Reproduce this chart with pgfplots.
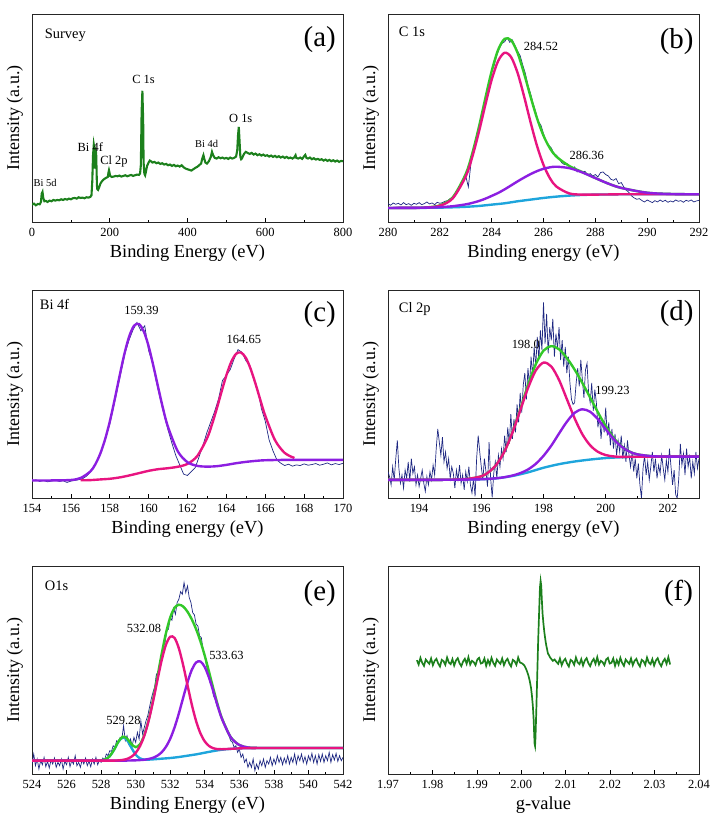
\documentclass[border=0pt]{standalone}
\usepackage{fontspec}
\setmainfont{Liberation Serif}
\usepackage{pgfplots}
\pgfplotsset{compat=1.18}
\definecolor{navy}{RGB}{30,40,130}
\definecolor{fgreen}{RGB}{50,200,40}
\definecolor{fpink}{RGB}{232,20,128}
\definecolor{fpurple}{RGB}{140,30,225}
\definecolor{fcyan}{RGB}{30,165,220}
\definecolor{sgreen}{RGB}{28,128,28}
\pgfplotsset{
  panel/.style={
    scale only axis, width=311bp, height=208bp, anchor=south west,
    ymin=0, ytick=\empty, xtick pos=left, tick align=inside,
    minor x tick num=1, major tick length=4bp, minor tick length=2.2bp,
    axis line style={line width=0.8pt, black!85},
    tick style={line width=0.6pt, black},
    ticklabel style={font=\fontsize{12.5}{12.5}\selectfont},
    xticklabel style={yshift=-3bp},
    /pgf/number format/assume math mode=true,
    xlabel style={font=\fontsize{18.5}{18.5}\selectfont, at={(axis description cs:0.5,-0.15)}, anchor=center},
    ylabel={Intensity (a.u.)},
    ylabel style={font=\fontsize{18}{18}\selectfont, at={(axis description cs:-0.055,0.5)}, anchor=center},
  },
  raw/.style={navy, line width=0.7pt},
  fit/.style={line width=2.4pt, smooth},
}
\newcommand{\corner}[1]{\fontsize{14.5}{15}\selectfont #1}
\newcommand{\pk}[1]{\fontsize{12.5}{13}\selectfont #1}
\newcommand{\plab}[1]{\fontsize{29}{30}\selectfont #1}
\begin{document}
\begin{tikzpicture}
\useasboundingbox (0,0) rectangle (714bp,821bp);
% ---------------- (a) ----------------
\begin{axis}[panel, at={(32bp,599bp)}, xmin=0, xmax=800, ymax=623,
  xtick={0,200,400,600,800}, xlabel={Binding Energy (eV)}]
\addplot[sgreen, line width=2.1pt] coordinates {
(0,52)(5,55)(10,50)(15,54)(20,53)(23,60)(25,85)(27,90)(29,72)(32,62)(36,63)(40,60)(45,64)(50,62)(55,66)(60,64)(65,66)(70,65)(75,68)(80,66)(85,69)(90,67)(95,70)(100,68)(105,71)(110,72)(115,70)(120,74)(125,72)(130,73)(135,71)(140,74)(145,73)(150,75)(153,80)(155,120)(157,200)(159,232)(160,225)(161,160)(162,175)(163,200)(164,212)(165,208)(166,160)(167,110)(168,98)(170,96)(173,105)(176,115)(180,122)(185,128)(190,132)(195,135)(197,150)(198,155)(199,150)(201,138)(205,135)(210,136)(215,138)(220,137)(225,139)(230,136)(235,138)(240,140)(245,137)(250,139)(255,141)(260,138)(265,140)(270,142)(275,141)(278,145)(280,170)(282,330)(284,393)(286,300)(287,180)(289,145)(291,140)(293,150)(296,168)(300,178)(303,184)(306,182)(310,178)(315,180)(320,176)(325,178)(330,174)(335,176)(340,172)(345,174)(350,170)(355,172)(360,168)(365,171)(370,167)(375,169)(380,166)(385,170)(390,164)(395,160)(400,158)(405,156)(410,154)(415,158)(420,162)(425,165)(430,170)(435,175)(438,190)(441,200)(443,190)(446,178)(450,175)(455,182)(460,195)(463,210)(466,200)(470,192)(475,190)(480,194)(485,191)(490,193)(495,190)(500,192)(505,189)(510,193)(515,190)(520,192)(525,196)(528,215)(530,260)(532,285)(534,240)(536,195)(538,188)(540,190)(543,198)(546,205)(550,210)(553,208)(556,206)(560,204)(565,207)(570,202)(575,205)(580,200)(585,203)(590,199)(595,202)(600,198)(605,200)(610,196)(615,199)(620,195)(625,198)(630,194)(635,197)(640,193)(645,196)(650,192)(655,195)(660,191)(665,193)(670,190)(675,194)(678,200)(680,192)(685,190)(690,193)(695,189)(700,197)(703,201)(706,192)(710,190)(715,193)(720,188)(725,191)(730,187)(735,189)(740,186)(745,188)(750,184)(755,187)(760,183)(765,186)(770,182)(775,185)(780,181)(785,184)(790,180)(795,183)(800,182)};
\node[anchor=west] at (rel axis cs:0.030,0.899) {\corner{Survey}};
\node at (rel axis cs:0.925,0.875) {\plab{(a)}};
\node at (axis cs:287,428) {\pk{C 1s}};
\node at (axis cs:150,223) {\pk{Bi 4f}};
\node at (axis cs:211,180) {\pk{Cl 2p}};
\node at (axis cs:34,117) {\fontsize{10.5}{11}\selectfont Bi 5d};
\node at (axis cs:449,233) {\fontsize{10.5}{11}\selectfont Bi 4d};
\node at (axis cs:537,310) {\pk{O 1s}};
\end{axis}
% ---------------- (b) ----------------
\begin{axis}[panel, at={(388bp,599bp)}, xmin=280, xmax=292, ymax=623,
  xtick={280,282,...,292}, xlabel={Binding energy (eV)}]
\addplot[raw] coordinates {
(280.0,55)(280.1,50)(280.2,57)(280.3,53)(280.4,56)(280.5,51)(280.6,58)(280.7,52)(280.8,55)(280.9,50)(281.0,56)(281.1,53)(281.2,58)(281.3,52)(281.4,55)(281.5,60)(281.6,54)(281.7,57)(281.8,52)(281.9,59)(282.0,56)(282.1,58)(282.2,62)(282.3,64)(282.4,70)(282.5,75)(282.6,84)(282.7,92)(282.8,110)(282.9,118)(283.0,138)(283.1,105)(283.2,175)(283.3,220)(283.4,250)(283.5,285)(283.6,318)(283.7,345)(283.8,380)(283.9,420)(284.0,450)(284.1,470)(284.2,500)(284.3,520)(284.4,535)(284.5,540)(284.6,552)(284.7,538)(284.8,545)(284.9,528)(285.0,512)(285.1,498)(285.2,470)(285.3,445)(285.4,410)(285.5,385)(285.6,355)(285.7,330)(285.8,300)(285.9,290)(286.0,265)(286.1,240)(286.2,230)(286.3,222)(286.4,205)(286.5,200)(286.6,190)(286.7,178)(286.8,172)(286.9,175)(287.0,168)(287.1,160)(287.2,165)(287.3,150)(287.4,155)(287.5,148)(287.6,152)(287.7,140)(287.8,145)(287.9,138)(288.0,142)(288.1,135)(288.2,148)(288.3,150)(288.4,142)(288.5,138)(288.6,128)(288.7,125)(288.8,130)(288.9,115)(289.0,118)(289.1,105)(289.2,95)(289.3,88)(289.4,78)(289.5,72)(289.6,68)(289.7,70)(289.8,64)(289.9,60)(290.0,66)(290.1,62)(290.2,58)(290.3,64)(290.4,60)(290.5,66)(290.6,61)(290.7,65)(290.8,59)(290.9,63)(291.0,60)(291.1,66)(291.2,62)(291.3,64)(291.4,59)(291.5,65)(291.6,62)(291.7,66)(291.8,60)(291.9,63)(292.0,65)};
\addplot[fit, fgreen] coordinates {
(280,42)(281,42.4)(281.5,43.8)(282,49.9)(282.5,74.2)(283,143.9)(283.25,205.0)(283.5,282.1)(283.75,368.9)(284,452.1)(284.25,515.8)(284.5,548.7)(284.75,544.5)(285,506.3)(285.25,445.0)(285.5,375.4)(285.75,310.8)(286,258.4)(286.25,220.6)(286.5,195.6)(287,167.6)(287.5,149.4)(288,131.6)(288.5,115.0)(289,102.1)(290,87.7)(291,83.8)(292,83)};
\addplot[fit, fcyan] coordinates {
(280,42)(281,42.2)(281.5,42.5)(282,43)(282.5,44)(283,45.5)(283.5,48)(284,52)(284.5,56)(285,62)(285.5,67)(286,72)(286.5,76)(287,79)(287.5,81)(288,82)(288.5,82.5)(289,83)(290,83)(291,83)(292,83)};
\addplot[fit, fpink] coordinates {
(280,42)(281,42.3)(281.5,43.3)(282,48.6)(282.5,70.9)(283,136.6)(283.25,194.5)(283.5,267.5)(283.75,349.1)(284,426.0)(284.25,482.3)(284.5,507.0)(284.75,493.9)(285,446.6)(285.25,376.5)(285.5,299.0)(285.75,227.9)(286,171.0)(286.25,130.8)(286.5,106.0)(287,85.4)(287.5,82.0)(288,82.1)(288.5,82.5)(289,83)(290,83)(292,83)};
\addplot[fit, fpurple] coordinates {
(280,42)(281,42.4)(281.5,43.0)(282,44.3)(282.5,47.3)(283,52.8)(283.25,57.2)(283.5,62.6)(283.75,69.6)(284,78.1)(284.25,87.0)(284.5,97.7)(284.75,109.6)(285,121.7)(285.25,133.0)(285.5,143.4)(285.75,152.4)(286,159.4)(286.25,163.8)(286.5,165.6)(287,161.2)(287.5,148.4)(288,131.5)(288.5,115.0)(289,102.1)(290,87.7)(291,83.8)(292,83)};
\node[anchor=west] at (rel axis cs:0.024,0.915) {\corner{C 1s}};
\node at (rel axis cs:0.928,0.867) {\plab{(b)}};
\node at (axis cs:285.9,525) {\pk{284.52}};
\node at (axis cs:287.67,200) {\pk{286.36}};
\end{axis}
% ---------------- (c) ----------------
\begin{axis}[panel, at={(32bp,323bp)}, xmin=154, xmax=170, ymax=628,
  xtick={154,156,...,170}, xlabel={Binding energy (eV)}]
\addplot[raw] coordinates {
(154.0,52)(154.2,55)(154.4,50)(154.6,53)(154.8,49)(155.0,51)(155.2,54)(155.4,50)(155.6,52)(155.8,47)(156.0,51)(156.2,53)(156.4,55)(156.6,58)(156.8,66)(157.0,78)(157.2,95)(157.4,118)(157.6,148)(157.8,185)(158.0,222)(158.2,275)(158.4,330)(158.6,385)(158.8,440)(159.0,478)(159.2,508)(159.4,530)(159.6,505)(159.8,520)(160.0,445)(160.2,408)(160.4,350)(160.6,298)(160.8,250)(161.0,205)(161.2,165)(161.4,128)(161.6,100)(161.8,72)(162.0,68)(162.2,80)(162.4,92)(162.6,125)(162.8,160)(163.0,198)(163.2,230)(163.4,262)(163.6,300)(163.8,355)(164.0,370)(164.2,388)(164.4,420)(164.6,448)(164.8,440)(165.0,415)(165.2,400)(165.4,360)(165.6,330)(165.8,270)(166.0,232)(166.2,175)(166.4,142)(166.6,115)(166.8,105)(167.0,98)(167.2,102)(167.4,96)(167.6,100)(167.8,98)(168.0,103)(168.2,99)(168.4,101)(168.6,104)(168.8,99)(169.0,102)(169.2,106)(169.4,100)(169.6,104)(169.8,101)(170.0,105)};
\addplot[fit, fpink] coordinates {
(156.5,53.5)(157,54)(157.5,56)(158,58)(158.5,62)(159,68)(159.5,75)(160,82)(160.5,87)(161,90)(161.5,94.3)(162,103)(162.5,126.6)(163,179.6)(163.25,220.3)(163.5,268.5)(163.75,320.8)(164,370.4)(164.25,410.8)(164.5,435.3)(164.75,439.3)(165,423.3)(165.25,389.5)(165.5,344.7)(165.75,295.4)(166,248.3)(166.5,174.8)(167,136.1)(167.5,120.8)};
\addplot[fit, fpurple] coordinates {
(154,53)(155,53)(156,54.4)(156.5,60.4)(157,80.0)(157.25,100.9)(157.5,132.0)(157.75,175.0)(158,230.4)(158.25,296.5)(158.5,366.9)(158.75,434.2)(159,487.8)(159.25,520.1)(159.5,525.3)(159.75,503.1)(160,458.1)(160.25,397.4)(160.5,331.7)(160.75,268.1)(161,213.9)(161.5,140.9)(162,108.0)(162.5,97.1)(163,94.7)(163.5,96)(164,100)(164.5,105)(165,109)(165.5,112)(166,114)(167,115)(168,115)(170,115)};
\node[anchor=west] at (rel axis cs:0.014,0.93) {\corner{Bi 4f}};
\node at (rel axis cs:0.925,0.884) {\plab{(c)}};
\node at (axis cs:159.63,565) {\pk{159.39}};
\node at (axis cs:164.9,480) {\pk{164.65}};
\end{axis}
% ---------------- (d) ----------------
\begin{axis}[panel, at={(388bp,323bp)}, xmin=193, xmax=203, ymax=633,
  xtick={194,196,...,202}, xlabel={Binding energy (eV)}]
\addplot[raw] coordinates {
(193.00,80)(193.05,65)(193.10,40)(193.15,95)(193.20,55)(193.25,120)(193.30,175)(193.35,90)(193.40,45)(193.45,70)(193.50,30)(193.55,85)(193.60,60)(193.65,110)(193.70,50)(193.75,120)(193.80,75)(193.85,95)(193.90,40)(193.95,70)(194.00,35)(194.05,60)(194.10,85)(194.15,45)(194.20,20)(194.25,65)(194.30,40)(194.35,80)(194.40,55)(194.45,100)(194.50,70)(194.55,150)(194.60,210)(194.65,170)(194.70,130)(194.75,185)(194.80,110)(194.85,140)(194.90,90)(194.95,120)(195.00,60)(195.05,95)(195.10,75)(195.15,30)(195.20,85)(195.25,55)(195.30,100)(195.35,45)(195.40,70)(195.45,25)(195.50,80)(195.55,50)(195.60,95)(195.65,40)(195.70,15)(195.75,60)(195.80,5)(195.85,120)(195.90,190)(195.95,140)(196.00,95)(196.05,55)(196.10,120)(196.15,80)(196.20,35)(196.25,170)(196.30,60)(196.35,2)(196.40,75)(196.45,110)(196.50,60)(196.55,130)(196.60,95)(196.65,150)(196.70,120)(196.75,190)(196.80,140)(196.85,215)(196.90,165)(196.95,255)(197.00,180)(197.05,240)(197.10,200)(197.15,285)(197.20,230)(197.25,320)(197.30,260)(197.35,345)(197.40,380)(197.45,300)(197.50,395)(197.55,340)(197.60,430)(197.65,370)(197.70,460)(197.75,400)(197.80,490)(197.85,420)(197.90,510)(197.95,450)(198.00,595)(198.05,470)(198.10,560)(198.15,440)(198.20,520)(198.25,480)(198.30,545)(198.35,430)(198.40,500)(198.45,455)(198.50,520)(198.55,420)(198.60,480)(198.65,400)(198.70,460)(198.75,380)(198.80,430)(198.85,350)(198.90,300)(198.95,285)(199.00,290)(199.05,350)(199.10,395)(199.15,340)(199.20,420)(199.25,360)(199.30,305)(199.35,390)(199.40,410)(199.45,320)(199.50,290)(199.55,350)(199.60,265)(199.65,330)(199.70,290)(199.75,215)(199.80,250)(199.85,180)(199.90,240)(199.95,200)(200.00,275)(200.05,190)(200.10,230)(200.15,160)(200.20,210)(200.25,150)(200.30,195)(200.35,130)(200.40,175)(200.45,140)(200.50,190)(200.55,120)(200.60,160)(200.65,110)(200.70,175)(200.75,130)(200.80,95)(200.85,140)(200.90,80)(200.95,120)(201.00,60)(201.05,105)(201.10,40)(201.15,0)(201.20,90)(201.25,130)(201.30,70)(201.35,110)(201.40,55)(201.45,95)(201.50,140)(201.55,80)(201.60,120)(201.65,60)(201.70,100)(201.75,75)(201.80,130)(201.85,90)(201.90,55)(201.95,115)(202.00,80)(202.05,150)(202.10,95)(202.15,40)(202.20,85)(202.25,10)(202.30,0)(202.35,60)(202.40,165)(202.45,100)(202.50,135)(202.55,70)(202.60,150)(202.65,95)(202.70,125)(202.75,60)(202.80,110)(202.85,75)(202.90,140)(202.95,90)(203.00,120)};
\addplot[fit, fcyan] coordinates {
(193,55)(194,55)(195,55.5)(195.5,56)(196,57)(196.5,60)(197,67)(197.5,78)(198,92)(198.5,103)(199,111)(199.5,117)(200,121.5)(200.5,124)(201,125.5)(201.5,126)(202,126)(203,126)};
\addplot[fit, fgreen] coordinates {
(193,55)(194,55)(195,55.6)(195.5,57.2)(196,66.1)(196.25,79.5)(196.5,103.4)(196.75,143.2)(197,199.9)(197.25,269.7)(197.5,342.9)(197.75,406.6)(198,448.3)(198.25,462.0)(198.5,452.5)(198.75,426.0)(199,390.8)(199.25,349.8)(199.5,305.7)(199.75,260.7)(200,218.7)(200.25,183.8)(200.5,158.1)(200.75,142.2)(201,133.2)(201.5,127.1)(202,126.1)(203,126)};
\addplot[fit, fpink] coordinates {
(193,55)(194,55)(195,55.6)(195.5,57.2)(196,66.1)(196.25,79.5)(196.5,103.3)(196.75,142.8)(197,198.6)(197.25,266.1)(197.5,334.2)(197.75,387.7)(198,412)(198.25,400.2)(198.5,359.2)(198.75,301.1)(199,242.6)(199.25,193.8)(199.5,160.3)(199.75,140.5)(200,130.6)(200.25,126.6)(200.5,125.2)(200.75,125.4)(201,125.6)(201.5,126)(202,126)(203,126)};
\addplot[fit, fpurple] coordinates {
(193,55)(194,55)(195,55.5)(195.5,56)(196,57)(196.25,58.5)(196.5,60.1)(196.75,63.4)(197,68.3)(197.25,75.6)(197.5,86.7)(197.75,103.9)(198,128.3)(198.25,159.3)(198.5,196.3)(198.75,231.9)(199,259.2)(199.25,270)(199.5,262.4)(199.75,239.7)(200,209.6)(200.25,180.2)(200.5,156.9)(200.75,141.8)(201,133.1)(201.5,127.1)(202,126.1)(203,126)};
\node[anchor=west] at (rel axis cs:0.024,0.908) {\corner{Cl 2p}};
\node at (rel axis cs:0.928,0.885) {\plab{(d)}};
\node at (axis cs:197.43,468) {\pk{198.0}};
\node at (axis cs:200.22,328) {\pk{199.23}};
\end{axis}
% ---------------- (e) ----------------
\begin{axis}[panel, at={(32bp,47bp)}, xmin=524, xmax=542, ymax=625,
  xtick={524,526,...,542}, xlabel={Binding Energy (eV)}]
\addplot[raw] coordinates {
(524.0,30)(524.1,60)(524.2,25)(524.3,45)(524.4,15)(524.5,40)(524.6,28)(524.7,50)(524.8,22)(524.9,38)(525.0,18)(525.1,42)(525.2,30)(525.3,48)(525.4,20)(525.5,35)(525.6,25)(525.7,45)(525.8,15)(525.9,38)(526.0,28)(526.1,50)(526.2,22)(526.3,40)(526.4,30)(526.5,55)(526.6,25)(526.7,35)(526.8,20)(526.9,42)(527.0,30)(527.1,48)(527.2,25)(527.3,38)(527.4,22)(527.5,45)(527.6,30)(527.7,50)(527.8,28)(527.9,40)(528.0,35)(528.1,48)(528.2,42)(528.3,60)(528.4,55)(528.5,70)(528.6,68)(528.7,85)(528.8,80)(528.9,100)(529.0,95)(529.1,110)(529.2,105)(529.3,145)(529.4,100)(529.5,115)(529.6,90)(529.7,105)(529.8,85)(529.9,110)(530.0,95)(530.1,125)(530.2,105)(530.3,160)(530.4,120)(530.5,140)(530.6,160)(530.7,175)(530.8,200)(530.9,225)(531.0,245)(531.1,262)(531.2,300)(531.3,290)(531.4,340)(531.5,345)(531.6,385)(531.7,395)(531.8,430)(531.9,435)(532.0,470)(532.1,462)(532.2,498)(532.3,480)(532.4,515)(532.5,525)(532.6,548)(532.7,540)(532.8,575)(532.9,545)(533.0,565)(533.1,530)(533.2,515)(533.3,485)(533.4,478)(533.5,450)(533.6,445)(533.7,415)(533.8,410)(533.9,375)(534.0,355)(534.1,325)(534.2,305)(534.3,275)(534.4,265)(534.5,235)(534.6,225)(534.7,205)(534.8,195)(534.9,180)(535.0,170)(535.1,150)(535.2,140)(535.3,125)(535.4,115)(535.5,100)(535.6,95)(535.7,80)(535.8,85)(535.9,65)(536.0,75)(536.1,50)(536.2,60)(536.3,35)(536.4,45)(536.5,20)(536.6,35)(536.7,20)(536.8,45)(536.9,10)(537.0,30)(537.1,15)(537.2,40)(537.3,25)(537.4,45)(537.5,20)(537.6,40)(537.7,30)(537.8,50)(537.9,25)(538.0,45)(538.1,30)(538.2,55)(538.3,35)(538.4,50)(538.5,28)(538.6,48)(538.7,32)(538.8,55)(538.9,30)(539.0,50)(539.1,35)(539.2,60)(539.3,30)(539.4,55)(539.5,40)(539.6,60)(539.7,35)(539.8,52)(539.9,30)(540.0,55)(540.1,40)(540.2,62)(540.3,35)(540.4,55)(540.5,30)(540.6,58)(540.7,38)(540.8,60)(540.9,35)(541.0,55)(541.1,40)(541.2,65)(541.3,35)(541.4,58)(541.5,42)(541.6,62)(541.7,38)(541.8,55)(541.9,40)(542.0,50)};
\addplot[fit, fcyan] coordinates {
(524,40)(526,40)(527,40)(527.5,40)(528,40.8)(528.25,44)(528.5,53.5)(528.75,72.8)(529,96.6)(529.25,110)(529.5,101.8)(529.75,79.2)(530,58.2)(530.25,47)(530.5,43.3)(530.75,43.2)(531,44)(531.5,46)(532,48)(532.5,51)(533,55)(533.5,59)(534,64)(534.5,69)(535,73)(535.5,75.5)(536,77)(537,78)(538,78)(540,78)(542,78)};
\addplot[fit, fgreen] coordinates {
(524,40)(526,40)(527,40)(527.5,40)(528,40.8)(528.25,44)(528.5,53.6)(528.75,73.1)(529,97.4)(529.25,112.1)(529.5,106.8)(529.75,90.2)(530,80.7)(530.25,89.5)(530.5,117.2)(530.75,162.2)(531,221.2)(531.25,289.5)(531.5,359.6)(531.75,422.6)(532,470.4)(532.25,499.2)(532.5,508.6)(532.75,503.3)(533,487.6)(533.25,464.5)(533.5,434.9)(533.75,398.6)(534,355.2)(534.25,306.3)(534.5,255.7)(534.75,207.5)(535,166.4)(535.5,110.9)(536,87.1)(536.5,79.6)(537,78.3)(538,78)(540,78)(542,78)};
\addplot[fit, fpurple] coordinates {
(524,40)(528,40)(529,40)(529.5,40.4)(530,41.1)(530.25,41.8)(530.5,42.8)(530.75,45.1)(531,48.7)(531.25,54.8)(531.5,65)(531.75,81.5)(532,105.9)(532.25,139.9)(532.5,182)(532.75,229.4)(533,275.6)(533.25,313.2)(533.5,335.2)(533.75,338.1)(534,321.3)(534.25,288.8)(534.5,247.3)(534.75,203.8)(535,164.9)(535.5,110.7)(536,87.1)(536.5,79.6)(537,78.3)(538,78)(540,78)(542,78)};
\addplot[fit, fpink] coordinates {
(524,40)(526,40)(527,40)(528,40)(528.5,40.1)(528.75,40.3)(529,40.8)(529.25,42.3)(529.5,45.4)(529.75,51.7)(530,63.4)(530.25,83.7)(530.5,115.1)(530.75,159.9)(531,216.5)(531.25,279.7)(531.5,340.6)(531.75,388.1)(532,412.5)(532.25,408.8)(532.5,377.6)(532.75,326.9)(533,267)(533.25,208.3)(533.5,158.7)(533.75,122)(534,97.9)(534.25,84)(534.5,77.4)(534.75,74.7)(535,74.5)(535.5,75.7)(536,77)(536.5,77.5)(537,78)(538,78)(540,78)(542,78)};
\node[anchor=west] at (rel axis cs:0.030,0.907) {\corner{O1s}};
\node at (rel axis cs:0.925,0.867) {\plab{(e)}};
\node at (axis cs:530.48,437) {\pk{532.08}};
\node at (axis cs:535.25,357) {\pk{533.63}};
\node at (axis cs:529.3,162) {\pk{529.28}};
\end{axis}
% ---------------- (f) ----------------
\begin{axis}[panel, at={(388bp,47bp)}, xmin=1.97, xmax=2.04, ymax=625,
  xtick={1.97,1.98,1.99,2.00,2.01,2.02,2.03,2.04},
  xticklabel style={/pgf/number format/.cd, fixed, fixed zerofill, precision=2},
  xlabel={g-value}]
\addplot[sgreen, line width=1.7pt] coordinates {
(1.9765,342)(1.9769,329)(1.9773,349)(1.9777,334)(1.9781,325)(1.9785,344)(1.9789,337)(1.9793,331)(1.9797,347)(1.9801,327)(1.9805,340)(1.9809,346)(1.9813,332)(1.9817,323)(1.9821,343)(1.9825,339)(1.9829,328)(1.9833,350)(1.9837,335)(1.9841,330)(1.9845,345)(1.9849,326)(1.9853,341)(1.9857,348)(1.9861,333)(1.9865,324)(1.9869,338)(1.9873,346)(1.9877,331)(1.9881,351)(1.9885,329)(1.9889,340)(1.9893,336)(1.9897,327)(1.9901,344)(1.9905,349)(1.9909,332)(1.9913,334)(1.9917,347)(1.9921,325)(1.9925,342)(1.9929,329)(1.9933,349)(1.9937,334)(1.9941,325)(1.9945,344)(1.9949,337)(1.9953,331)(1.9957,347)(1.9961,327)(1.9965,340)(1.9969,346)(1.9973,332)(1.9977,323)(1.9981,343)(1.9985,339)(1.9989,328)(1.9993,350)(1.9997,335)
(2.0001,333)(2.0004,330)(2.0007,326)(2.0010,318)(2.0013,308)(2.0016,296)(2.0019,280)(2.0022,258)(2.0024,235)(2.0026,205)(2.0028,160)(2.0029,120)(2.0030,90)(2.0031,84)(2.0032,110)(2.0034,200)(2.0036,300)(2.0038,400)(2.0040,480)(2.0042,560)(2.00435,580)(2.0045,565)(2.0046,530)(2.0048,480)(2.0050,450)(2.0052,425)(2.0054,405)(2.0056,388)(2.0058,375)(2.0060,362)(2.0062,358)(2.0065,350)(2.0068,345)(2.0071,340)
(2.0075,344)(2.0079,337)(2.0083,331)(2.0087,347)(2.0091,327)(2.0095,340)(2.0099,346)(2.0103,332)(2.0107,323)(2.0111,343)(2.0115,339)(2.0119,328)(2.0123,350)(2.0127,335)(2.0131,330)(2.0135,345)(2.0139,326)(2.0143,341)(2.0147,348)(2.0151,333)(2.0155,324)(2.0159,338)(2.0163,346)(2.0167,331)(2.0171,351)(2.0175,329)(2.0179,340)(2.0183,336)(2.0187,327)(2.0191,344)(2.0195,349)(2.0199,332)(2.0203,334)(2.0207,347)(2.0211,325)(2.0215,342)(2.0219,329)(2.0223,349)(2.0227,334)(2.0231,325)(2.0235,344)(2.0239,337)(2.0243,331)(2.0247,347)(2.0251,327)(2.0255,340)(2.0259,346)(2.0263,332)(2.0267,323)(2.0271,343)(2.0275,339)(2.0279,328)(2.0283,350)(2.0287,335)(2.0291,330)(2.0295,345)(2.0299,326)(2.0303,341)(2.0307,348)(2.0311,333)(2.0315,324)(2.0319,338)(2.0323,346)(2.0327,331)(2.0331,351)(2.0335,329)};
\node at (rel axis cs:0.934,0.867) {\plab{(f)}};
\end{axis}
\end{tikzpicture}
\end{document}
